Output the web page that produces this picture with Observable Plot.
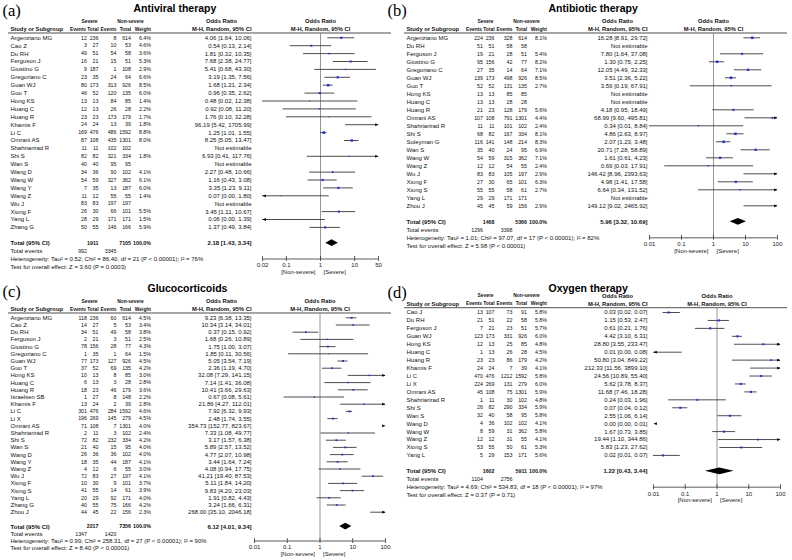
<!DOCTYPE html>
<html><head><meta charset="utf-8">
<script src="https://cdn.jsdelivr.net/npm/d3@7"></script>
<script src="https://cdn.jsdelivr.net/npm/@observablehq/plot@0.6"></script>
<style>
html,body{margin:0;padding:0;background:#fff;}
#grid{display:grid;grid-template-columns:396px 396px;grid-template-rows:280px 280px;width:792px;height:560px;overflow:hidden;}
#grid svg{display:block;overflow:visible}
</style></head><body><div id="grid"></div>
<script>
// ---------------- shared labels ----------------
const panelLetters = ["(a)", "(b)", "(c)", "(d)"];
const panelTitles = ["Antiviral therapy", "Antibiotic therapy", "Glucocorticoids", "Oxygen therapy"];
const groupHeaders = ["Severe", "Non-severe", "Odds Ratio"];
const colHeaders = ["Study or Subgroup", "Events", "Total", "Events", "Total", "Weight", "M-H, Random, 95% CI"];
const summaryLabels = ["Total (95% CI)", "Total events"];
const favourLabels = ["[Non-severe]", "[Severe]"];
const notEstimable = "Not estimable";

// ---------------- (a) Antiviral therapy ----------------
const aStudies = ["Argenziano MG","Cao Z","Du RH","Ferguson J","Giustino G","Gregoriano C","Guan WJ","Guo T","Hong KS","Huang C","Huang R","Khamis F","Li C","Omrani AS","Shahriarirad R","Shi S","Wan S","Wang D","Wang W","Wang Y","Wang Z","Wu J","Xiong F","Yang L","Zhang G"];
const aSevEvents = [12,3,49,16,9,23,80,46,13,12,23,24,169,87,11,82,40,34,54,7,11,83,26,28,50];
const aSevTotal = [236,27,51,21,187,35,173,52,13,13,23,24,476,108,11,82,40,36,59,35,12,83,30,29,55];
const aNsEvents = [8,10,54,15,1,24,313,120,84,26,173,13,486,435,102,321,95,90,327,13,55,197,66,171,146];
const aNsTotal = [614,53,58,51,108,64,926,135,85,28,179,39,1592,1301,102,334,95,102,362,187,55,197,101,171,166];
const aWeight = [6.4,4.6,3.6,5.3,2.9,6.6,8.5,6.0,1.4,2.2,1.7,1.8,8.8,8.0,null,1.8,null,4.1,6.1,6.0,1.4,null,5.5,1.5,5.9];
const aOR = [4.06,0.54,1.81,7.68,5.41,3.19,1.68,0.96,0.48,0.92,1.76,96.19,1.25,8.25,null,6.93,null,2.27,1.16,3.35,0.07,null,3.45,0.06,1.37];
const aLo = [1.64,0.13,0.32,2.38,0.68,1.35,1.21,0.35,0.02,0.08,0.10,5.42,1.01,5.05,null,0.41,null,0.48,0.43,1.23,0.00,null,1.11,0.00,0.49];
const aHi = [10.06,2.14,10.35,24.77,43.30,7.56,2.34,2.62,12.38,11.20,32.28,1705.99,1.55,13.47,null,117.76,null,10.66,3.08,9.11,1.80,null,10.67,1.39,3.84];
const aTotalN = [1911, 7105];
const aTotalEvents = [992, 3345];
const aTotalOR = [2.18, 1.43, 3.34];
const aHet = "Heterogeneity: Tau² = 0.52; Chi² = 86.40, df = 21 (P < 0.00001); I² = 76%";
const aTest = "Test for overall effect: Z = 3.60 (P = 0.0003)";
const aTicks = [0.02, 0.1, 1, 10, 50];

// ---------------- (b) Antibiotic therapy ----------------
const bStudies = ["Argenziano MG","Du RH","Ferguson J","Giustino G","Gregoriano C","Guan WJ","Guo T","Hong KS","Huang C","Huang R","Omrani AS","Shahriarirad R","Shi S","Suleyman G","Wan S","Wang W","Wang Z","Wu J","Xiong F","Xiong S","Yang L","Zhou J"];
const bSevEvents = [224,51,19,95,27,139,52,13,13,21,107,11,68,116,35,54,12,83,27,55,29,45];
const bSevTotal = [236,51,21,156,35,173,52,13,13,23,108,11,82,141,40,59,12,83,30,55,29,45];
const bNsEvents = [328,58,28,42,14,498,131,85,28,128,791,101,167,148,24,315,54,105,65,58,171,59];
const bNsTotal = [614,58,51,77,64,926,135,85,28,179,1301,102,334,214,95,362,55,197,101,61,171,156];
const bWeight = [8.1,null,5.4,8.2,7.1,8.5,2.7,null,null,5.6,4.4,2.4,8.1,8.3,6.9,7.1,2.4,2.9,6.3,2.7,null,2.9];
const bOR = [16.28,null,7.80,1.30,12.05,3.51,3.59,null,null,4.18,68.99,0.34,4.86,2.07,20.71,1.61,0.69,146.42,4.98,6.64,null,149.12];
const bLo = [8.91,null,1.64,0.75,4.49,2.36,0.19,null,null,0.95,9.60,0.01,2.63,1.23,7.28,0.61,0.03,8.96,1.41,0.34,null,9.02];
const bHi = [29.72,null,37.08,2.25,32.33,5.22,67.91,null,null,18.49,495.81,8.84,8.97,3.48,58.89,4.23,17.91,2393.63,17.58,131.52,null,2465.92];
const bTotalN = [1468, 5366];
const bTotalEvents = [1296, 3398];
const bTotalOR = [5.96, 3.32, 10.69];
const bHet = "Heterogeneity: Tau² = 1.01; Chi² = 97.07, df = 17 (P < 0.00001); I² = 82%";
const bTest = "Test for overall effect: Z = 5.98 (P < 0.00001)";
const bTicks = [0.01, 0.1, 1, 10, 100];

// ---------------- (c) Glucocorticoids ----------------
const cStudies = ["Argenziano MG","Cao Z","Du RH","Ferguson J","Giustino G","Gregoriano C","Guan WJ","Guo T","Hong KS","Huang C","Huang R","Israelsen SB","Khamis F","Li C","Li X","Omrani AS","Shahriarirad R","Shi S","Wan S","Wang D","Wang Y","Wang Z","Wu J","Xiong F","Xiong S","Yang L","Zhang G","Zhou J"];
const cSevEvents = [118,14,34,2,78,1,77,37,10,6,18,1,13,301,196,71,2,72,21,26,18,4,72,10,41,20,40,44];
const cSevTotal = [236,27,51,21,156,35,173,52,13,13,23,27,24,476,269,108,11,82,40,36,35,12,83,30,55,29,55,45];
const cNsEvents = [60,5,49,3,28,1,127,69,8,3,46,8,2,284,145,7,3,232,15,36,44,6,27,9,14,92,75,22];
const cNsTotal = [614,53,58,51,77,64,926,135,85,28,179,148,39,1592,279,1301,102,334,95,102,187,55,197,101,61,171,166,156];
const cWeight = [4.5,3.4,3.8,2.5,4.3,1.5,4.5,4.2,3.0,2.8,3.6,2.2,2.8,4.6,4.5,4.0,2.4,4.2,4.0,4.0,4.1,3.0,4.1,3.7,3.9,4.0,4.2,2.3];
const cOR = [9.23,10.34,0.37,1.68,1.75,1.85,5.05,2.36,32.08,7.14,10.41,0.67,21.86,7.92,2.48,354.73,7.33,3.17,5.89,4.77,3.44,4.08,41.21,5.11,9.83,1.91,3.24,268.00];
const cLo = [6.38,3.14,0.15,0.26,1.00,0.11,3.54,1.19,7.29,1.41,3.66,0.08,4.27,6.32,1.74,152.77,1.08,1.57,2.57,2.07,1.64,0.94,19.40,1.84,4.20,0.82,1.66,35.10];
const cHi = [13.35,34.01,0.92,10.89,3.07,30.56,7.19,4.70,141.15,36.08,29.63,5.61,112.01,9.93,3.55,823.67,49.77,6.38,13.52,10.98,7.24,17.75,87.53,14.20,23.03,4.43,6.31,2046.18];
const cTotalN = [2217, 7356];
const cTotalEvents = [1347, 1420];
const cTotalOR = [6.12, 4.01, 9.34];
const cHet = "Heterogeneity: Tau² = 0.99; Chi² = 258.31, df = 27 (P < 0.00001); I² = 90%";
const cTest = "Test for overall effect: Z = 8.40 (P < 0.00001)";
const cTicks = [0.01, 0.1, 1, 10, 100];

// ---------------- (d) Oxygen therapy ----------------
const dStudies = ["Cao J","Du RH","Ferguson J","Guan WJ","Hong KS","Huang C","Huang R","Khamis F","Li C","Li X","Omrani AS","Shahriarirad R","Shi S","Wan S","Wang D","Wang W","Wang Z","Xiong S","Yang L"];
const dSevEvents = [13,21,7,123,12,1,23,24,470,224,45,1,26,32,4,8,12,53,5];
const dSevTotal = [107,51,21,173,13,13,23,24,476,269,108,11,82,40,36,59,12,55,29];
const dNsEvents = [73,22,23,331,25,26,86,7,1212,131,75,30,290,58,102,31,31,50,153];
const dNsTotal = [91,58,51,926,85,28,179,39,1592,279,1301,102,334,95,102,362,55,61,171];
const dWeight = [5.8,5.8,5.7,6.0,4.8,4.5,4.2,4.1,5.8,6.0,5.9,4.8,5.9,5.8,4.1,5.8,4.1,5.3,5.6];
const dOR = [0.03,1.15,0.61,4.42,28.80,0.01,50.80,212.33,24.56,5.62,11.68,0.24,0.07,2.55,0.00,1.67,19.44,5.83,0.02];
const dLo = [0.02,0.53,0.21,3.10,3.55,0.00,3.04,11.56,10.89,3.78,7.46,0.03,0.04,1.06,0.00,0.73,1.10,1.23,0.01];
const dHi = [0.07,2.47,1.76,6.31,233.47,0.08,849.22,3899.10,55.40,8.37,18.28,1.96,0.12,6.14,0.01,3.85,344.86,27.62,0.07];
const dTotalN = [1602, 5911];
const dTotalEvents = [1104, 2756];
const dTotalOR = [1.22, 0.43, 3.44];
const dHet = "Heterogeneity: Tau² = 4.69; Chi² = 534.83, df = 18 (P < 0.00001); I² = 97%";
const dTest = "Test for overall effect: Z = 0.37 (P = 0.71)";
const dTicks = [0.01, 0.1, 1, 10, 100];

// ---------------- layout (positions, not data) ----------------
const COL = {name: 10, sevE: 86.5, sevT: 98, nsE: 116, nsT: 130.5, w: 150.5, or: 251, sevHdr: 89, nsHdr: 130, orHdr: 221};
const FONT = "Liberation Sans, Arial, Helvetica, sans-serif";
const FS = 6, NFS = 5.3, HFS = 5.8, CHFS = 4.9;
const layouts = [
  {row0: 37.3, pitch: 7.9, xRange: [262, 378], titleX: 133, letterX: 2, letterY: 10},
  {row0: 37.3, pitch: 8.0, xRange: [253, 381], titleX: 152, letterX: -9, letterY: 10},
  {row0: 37.3, pitch: 7.2, xRange: [254, 385], titleX: 147, letterX: 2, letterY: 11},
  {row0: 32.0, pitch: 7.94, xRange: [257, 384], titleX: 152, letterX: -9, letterY: 12}
];

const triRight = {draw(ctx, size) { const s = Math.sqrt(size); ctx.moveTo(0, 0); ctx.lineTo(-s, -s * 0.42); ctx.lineTo(-s, s * 0.42); ctx.closePath(); }};
const triLeft = {draw(ctx, size) { const s = Math.sqrt(size); ctx.moveTo(0, 0); ctx.lineTo(s, -s * 0.42); ctx.lineTo(s, s * 0.42); ctx.closePath(); }};

function panel(k, d) {
  const L = layouts[k];
  const n = d.studies.length;
  const iTotal = n + 1, iEvents = n + 2, iHet = n + 3, iTest = n + 4;
  const u = (px) => px / L.pitch; // pixel offset -> row units
  const rows = d.studies.map((s, i) => ({i, s, se: d.sevE[i], st: d.sevT[i], ne: d.nsE[i], nt: d.nsT[i], w: d.weight[i], or: d.or[i], lo: d.lo[i], hi: d.hi[i]}));
  const est = rows.filter((r) => r.or != null);
  const xlo = d.ticks[0], xhi = d.ticks[d.ticks.length - 1];
  const f2 = (v) => v.toFixed(2);
  const orText = (r) => r.or == null ? notEstimable : `${f2(r.or)} [${f2(r.lo)}, ${f2(r.hi)}]`;
  const base = {frameAnchor: "left", fontFamily: FONT, fontSize: FS, fill: "#111"};
  const num = {...base, fontSize: NFS};
  const hdr = {...base, fontSize: HFS, fontWeight: "bold"};
  const chdr = {...base, fontSize: CHFS, fontWeight: "bold"};
  const yHdr1 = u(-16.8), yHdr2 = u(-8.8), yLine = u(-4.8), yTitle = u(8.5 - L.row0), yLetter = u(L.letterY - L.row0);
  const [T, tLo, tHi] = d.totalOR;
  const dh = u(3.4);
  const diamond = [{x: tLo, y1: iTotal, y2: iTotal}, {x: T, y1: iTotal - dh, y2: iTotal + dh}, {x: tHi, y1: iTotal, y2: iTotal}];
  const str = (key) => (r) => String(r[key]);
  const one = (v) => [v];

  return Plot.plot({
    width: 396, height: 280, margin: 0,
    style: {background: "transparent", overflow: "visible"},
    x: {type: "log", domain: [xlo, xhi], range: L.xRange, clamp: true, axis: null},
    y: {type: "linear", domain: [0, 1], range: [L.row0, L.row0 + L.pitch], axis: null},
    r: {type: "sqrt", domain: [0, 10], range: [0, 1.55]},
    marks: [
      // panel letter and title
      Plot.text(one(panelLetters[k]), {frameAnchor: "left", dx: L.letterX, y: () => yLetter, text: String, fontFamily: "Liberation Serif, Times New Roman, serif", fontSize: 16.5, fill: "#000", textAnchor: "start"}),
      Plot.text(one(panelTitles[k]), {frameAnchor: "left", dx: L.titleX, y: () => yTitle, text: String, fontFamily: FONT, fontSize: 10.5, fontWeight: "bold", fill: "#000", textAnchor: "start"}),
      // group headers
      Plot.text(one(groupHeaders[0]), {...chdr, dx: COL.sevHdr, y: () => yHdr1, text: String, textAnchor: "middle"}),
      Plot.text(one(groupHeaders[1]), {...chdr, dx: COL.nsHdr, y: () => yHdr1, text: String, textAnchor: "middle"}),
      Plot.text(one(groupHeaders[2]), {...hdr, dx: COL.orHdr, y: () => yHdr1, text: String, textAnchor: "middle"}),
      Plot.text(one(groupHeaders[2]), {...hdr, frameAnchor: undefined, x: () => 1, y: () => yHdr1, text: String, textAnchor: "middle"}),
      // column headers
      Plot.text(one(colHeaders[0]), {...hdr, dx: COL.name, y: () => yHdr2, text: String, textAnchor: "start"}),
      Plot.text(one(colHeaders[1]), {...chdr, dx: COL.sevE - 1, y: () => yHdr2, text: String, textAnchor: "end"}),
      Plot.text(one(colHeaders[2]), {...chdr, dx: COL.sevT, y: () => yHdr2, text: String, textAnchor: "end"}),
      Plot.text(one(colHeaders[3]), {...chdr, dx: COL.nsE, y: () => yHdr2, text: String, textAnchor: "end"}),
      Plot.text(one(colHeaders[4]), {...chdr, dx: COL.nsT, y: () => yHdr2, text: String, textAnchor: "end"}),
      Plot.text(one(colHeaders[5]), {...chdr, dx: COL.w, y: () => yHdr2, text: String, textAnchor: "end"}),
      Plot.text(one(colHeaders[6]), {...hdr, dx: COL.or, y: () => yHdr2, text: String, textAnchor: "end"}),
      Plot.text(one(colHeaders[6]), {...hdr, frameAnchor: undefined, x: () => 1, y: () => yHdr2, text: String, textAnchor: "middle"}),
      // header rule
      Plot.ruleY([yLine], {y: (v) => v, insetLeft: 8, insetRight: 5, stroke: "#222", strokeWidth: 0.8}),
      // study rows
      Plot.text(rows, {...base, y: "i", text: "s", dx: COL.name, textAnchor: "start"}),
      Plot.text(rows, {...num, y: "i", text: str("se"), dx: COL.sevE, textAnchor: "end"}),
      Plot.text(rows, {...num, y: "i", text: str("st"), dx: COL.sevT, textAnchor: "end"}),
      Plot.text(rows, {...num, y: "i", text: str("ne"), dx: COL.nsE, textAnchor: "end"}),
      Plot.text(rows, {...num, y: "i", text: str("nt"), dx: COL.nsT, textAnchor: "end"}),
      Plot.text(rows, {...num, y: "i", text: (r) => r.w == null ? "" : r.w.toFixed(1) + "%", dx: COL.w, textAnchor: "end"}),
      Plot.text(rows, {...base, y: "i", text: orText, dx: COL.or, textAnchor: "end"}),
      // total rows
      Plot.text(one(summaryLabels[0]), {...base, fontWeight: "bold", dx: COL.name, y: () => iTotal, text: String, textAnchor: "start"}),
      Plot.text(one(d.totalN[0]), {...num, fontWeight: "bold", dx: COL.sevT, y: () => iTotal, text: String, textAnchor: "end"}),
      Plot.text(one(d.totalN[1]), {...num, fontWeight: "bold", dx: COL.nsT, y: () => iTotal, text: String, textAnchor: "end"}),
      Plot.text(one("100.0%"), {...num, fontWeight: "bold", dx: COL.w, y: () => iTotal, text: String, textAnchor: "end"}),
      Plot.text(one(d.totalOR), {...base, fontWeight: "bold", dx: COL.or, y: () => iTotal, text: (t) => `${f2(t[0])} [${f2(t[1])}, ${f2(t[2])}]`, textAnchor: "end"}),
      Plot.text(one(summaryLabels[1]), {...base, dx: COL.name, y: () => iEvents, text: String, textAnchor: "start"}),
      Plot.text(one(d.totalEvents[0]), {...num, dx: COL.sevE, y: () => iEvents, text: String, textAnchor: "end"}),
      Plot.text(one(d.totalEvents[1]), {...num, dx: COL.nsE, y: () => iEvents, text: String, textAnchor: "end"}),
      Plot.text(one(d.het), {...base, dx: COL.name, y: () => iHet, text: String, textAnchor: "start"}),
      Plot.text(one(d.test), {...base, dx: COL.name, y: () => iTest, text: String, textAnchor: "start"}),
      // forest plot
      Plot.ruleX([1], {x: (v) => v, y1: () => yLine, y2: () => iHet, stroke: "#8a8a8a", strokeWidth: 0.9}),
      Plot.ruleY(est, {y: "i", x1: "lo", x2: "hi", stroke: "#3a3a3a", strokeWidth: 0.9}),
      Plot.dot(est.filter((r) => r.hi > xhi), {x: "hi", y: "i", symbol: triRight, r: 1.9, fill: "#000", stroke: null}),
      Plot.dot(est.filter((r) => r.lo < xlo), {x: "lo", y: "i", symbol: triLeft, r: 1.9, fill: "#000", stroke: null}),
      Plot.dot(est.filter((r) => r.or > xlo && r.or < xhi), {x: "or", y: "i", r: "w", symbol: "square", fill: "#1f2fe0", stroke: null}),
      Plot.areaY(diamond, {x: "x", y1: "y1", y2: "y2", fill: "#000", curve: "linear"}),
      // axis
      Plot.ruleY([iHet], {y: (v) => v, x1: () => xlo, x2: () => xhi, stroke: "#333", strokeWidth: 0.8}),
      Plot.ruleX(d.ticks, {x: (v) => v, y1: () => iHet, y2: () => iHet, insetTop: -2.5, insetBottom: -2.5, stroke: "#333", strokeWidth: 0.8}),
      Plot.text(d.ticks, {x: (v) => v, y: () => iHet, dy: 6.5, text: String, fontFamily: FONT, fontSize: FS, fill: "#222", textAnchor: "middle"}),
      Plot.text(one(favourLabels[0]), {x: () => 1, y: () => iHet, dy: 13, dx: -5, text: String, fontFamily: FONT, fontSize: FS, fill: "#222", textAnchor: "end"}),
      Plot.text(one(favourLabels[1]), {x: () => 1, y: () => iHet, dy: 13, dx: 3, text: String, fontFamily: FONT, fontSize: FS, fill: "#222", textAnchor: "start"})
    ]
  });
}

const panelsData = [
  {studies: aStudies, sevE: aSevEvents, sevT: aSevTotal, nsE: aNsEvents, nsT: aNsTotal, weight: aWeight, or: aOR, lo: aLo, hi: aHi, totalN: aTotalN, totalEvents: aTotalEvents, totalOR: aTotalOR, het: aHet, test: aTest, ticks: aTicks},
  {studies: bStudies, sevE: bSevEvents, sevT: bSevTotal, nsE: bNsEvents, nsT: bNsTotal, weight: bWeight, or: bOR, lo: bLo, hi: bHi, totalN: bTotalN, totalEvents: bTotalEvents, totalOR: bTotalOR, het: bHet, test: bTest, ticks: bTicks},
  {studies: cStudies, sevE: cSevEvents, sevT: cSevTotal, nsE: cNsEvents, nsT: cNsTotal, weight: cWeight, or: cOR, lo: cLo, hi: cHi, totalN: cTotalN, totalEvents: cTotalEvents, totalOR: cTotalOR, het: cHet, test: cTest, ticks: cTicks},
  {studies: dStudies, sevE: dSevEvents, sevT: dSevTotal, nsE: dNsEvents, nsT: dNsTotal, weight: dWeight, or: dOR, lo: dLo, hi: dHi, totalN: dTotalN, totalEvents: dTotalEvents, totalOR: dTotalOR, het: dHet, test: dTest, ticks: dTicks}
];

const grid = document.getElementById("grid");
grid.style.background = "white";
panelsData.forEach((d, k) => grid.appendChild(panel(k, d)));
</script>
</body></html>
